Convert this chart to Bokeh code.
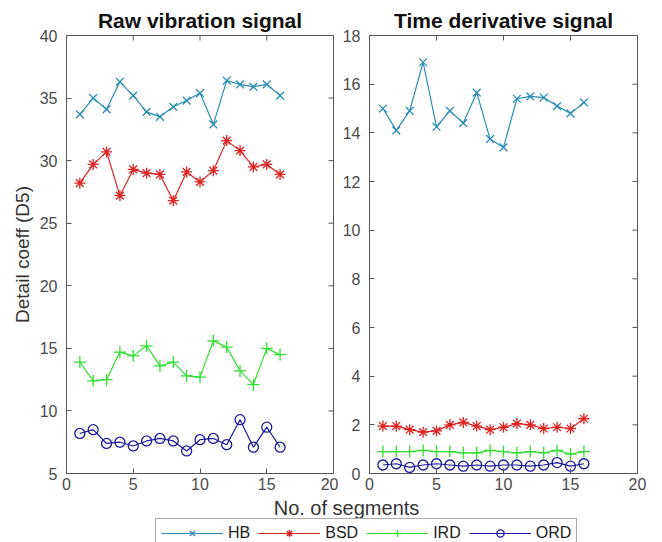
import math
from bokeh.plotting import figure
from bokeh.layouts import column, row
from bokeh.models import Range1d, FixedTicker, Legend, LegendItem, ColumnDataSource
from bokeh.core.properties import value
from bokeh.embed import file_html
from bokeh.resources import INLINE

segments = list(range(1, 17))
series_names = ["HB", "BSD", "IRD", "ORD"]

# Raw vibration signal
hb_raw = [33.7, 35.0, 34.1, 36.3, 35.2, 33.9, 33.5, 34.3, 34.8, 35.4, 32.9, 36.4, 36.1, 35.9, 36.1, 35.2]
bsd_raw = [28.2, 29.7, 30.7, 27.2, 29.3, 29.0, 28.9, 26.8, 29.1, 28.3, 29.2, 31.6, 30.8, 29.5, 29.7, 28.9]
ird_raw = [13.9, 12.4, 12.5, 14.7, 14.4, 15.2, 13.6, 13.9, 12.8, 12.7, 15.6, 15.1, 13.2, 12.1, 15.0, 14.5]
ord_raw = [8.2, 8.5, 7.4, 7.5, 7.2, 7.6, 7.8, 7.6, 6.8, 7.7, 7.8, 7.3, 9.3, 7.1, 8.7, 7.1]

# Time derivative signal
hb_der = [15.0, 14.1, 14.9, 16.9, 14.25, 14.9, 14.4, 15.65, 13.75, 13.4, 15.4, 15.5, 15.45, 15.1, 14.8, 15.25]
bsd_der = [1.95, 1.95, 1.8, 1.7, 1.75, 2.0, 2.1, 1.95, 1.8, 1.9, 2.05, 2.0, 1.85, 1.9, 1.85, 2.25]
ird_der = [0.9, 0.9, 0.9, 0.95, 0.9, 0.9, 0.85, 0.85, 0.95, 0.9, 0.85, 0.9, 0.85, 0.95, 0.8, 0.9]
ord_der = [0.35, 0.4, 0.25, 0.35, 0.4, 0.35, 0.3, 0.35, 0.3, 0.35, 0.35, 0.3, 0.35, 0.45, 0.3, 0.4]

x_ticks = [0, 5, 10, 15, 20]
y_ticks_raw = [5, 10, 15, 20, 25, 30, 35, 40]
y_ticks_der = [0, 2, 4, 6, 8, 10, 12, 14, 16, 18]

colors = {"HB": "#2a8db3", "BSD": "#dd2222", "IRD": "#33dd33", "ORD": "#1a1a9a"}
markers = {"HB": "x", "BSD": "asterisk", "IRD": "cross", "ORD": "circle"}
msize = {"HB": 11, "BSD": 11, "IRD": 12, "ORD": 10}

FONT = "Liberation Sans"
AX = "#555555"
TXT = "#4a4a4a"
TOP_H = 495
BOT_H = 542 - TOP_H


def style_axis(ax, standoff):
    ax.axis_line_color = AX
    ax.major_tick_line_color = AX
    ax.major_tick_in = 5
    ax.major_tick_out = 0
    ax.minor_tick_line_color = None
    ax.major_label_text_font = FONT
    ax.major_label_text_color = TXT
    ax.major_label_text_font_size = "16px"
    ax.major_label_standoff = standoff


def make_panel(title, data, ymin, ymax, yticks, width, height, bl, br, bt, bb):
    p = figure(width=width, height=height, output_backend="svg", toolbar_location=None,
               x_range=Range1d(0, 20), y_range=Range1d(ymin, ymax),
               min_border_left=bl, min_border_right=br, min_border_top=bt, min_border_bottom=bb)
    p.title.text = title
    p.title.text_font = FONT
    p.title.text_font_size = "21px"
    p.title.text_font_style = "bold"
    p.title.text_color = "#111111"
    p.title.align = "center"
    p.title.standoff = 7
    p.xgrid.visible = False
    p.ygrid.visible = False
    p.outline_line_color = AX
    p.background_fill_color = "white"
    p.border_fill_color = "white"
    p.xaxis.ticker = FixedTicker(ticks=x_ticks)
    p.yaxis.ticker = FixedTicker(ticks=yticks)
    style_axis(p.xaxis[0], 4)
    style_axis(p.yaxis[0], 9)
    # mirrored tick marks on the top and right edges of the box
    p.scatter(x=x_ticks, y=[ymax] * len(x_ticks), marker="dash", angle=math.pi / 2,
              size=10, line_color=AX, line_width=1)
    p.scatter(x=[20] * len(yticks), y=yticks, marker="dash", size=10, line_color=AX, line_width=1)
    for name, ys in zip(series_names, data):
        src = ColumnDataSource(dict(x=segments, y=ys))
        p.line("x", "y", source=src, line_color=colors[name], line_width=1.2)
        p.scatter("x", "y", source=src, marker=markers[name], size=msize[name],
                  line_color=colors[name], fill_alpha=0, line_width=1.3)
    return p


p1 = make_panel("Raw vibration signal", [hb_raw, bsd_raw, ird_raw, ord_raw], 5, 40, y_ticks_raw,
                338, TOP_H, 66, 5, 32, TOP_H - 473)
p1.yaxis[0].axis_label = "Detail coeff (D5)"
p1.yaxis[0].axis_label_text_font = FONT
p1.yaxis[0].axis_label_text_font_size = "19px"
p1.yaxis[0].axis_label_text_font_style = "normal"
p1.yaxis[0].axis_label_text_color = "#333333"
p1.yaxis[0].axis_label_standoff = 4

p2 = make_panel("Time derivative signal", [hb_der, bsd_der, ird_der, ord_der], 0, 18, y_ticks_der,
                324, TOP_H, 31, 25, 35, TOP_H - 474)

# bottom strip: x label + legend
p3 = figure(width=662, height=BOT_H, output_backend="svg", toolbar_location=None,
            x_range=Range1d(0, 662), y_range=Range1d(0, BOT_H),
            min_border_left=0, min_border_right=0, min_border_top=0, min_border_bottom=0)
p3.axis.visible = False
p3.xgrid.visible = False
p3.ygrid.visible = False
p3.outline_line_color = None
p3.text(x=[346], y=[BOT_H - 1], text=["No. of segments"], text_align="center",
        text_baseline="top", text_font=value(FONT), text_font_size="20px",
        text_color="#333333")

nan = float("nan")
items = []
for name in series_names:
    src = ColumnDataSource(dict(x=[nan], y=[nan]))
    l = p3.line("x", "y", source=src, line_color=colors[name], line_width=1.2)
    s = p3.scatter("x", "y", source=src, marker=markers[name], size=msize[name],
                   line_color=colors[name], fill_alpha=0, line_width=1.3)
    items.append(LegendItem(label=name, renderers=[l, s]))

leg = Legend(items=items, orientation="horizontal", location=(155, -6),
             glyph_width=62, glyph_height=18, label_height=18, label_standoff=5,
             spacing=8, padding=5, margin=0,
             label_text_font=FONT, label_text_font_size="16px", label_text_color="#222222",
             border_line_color="#555555", background_fill_alpha=1.0)
p3.add_layout(leg, "center")

layout = column(row(p1, p2), p3)

open("out.html", "w").write(file_html(layout, INLINE))
